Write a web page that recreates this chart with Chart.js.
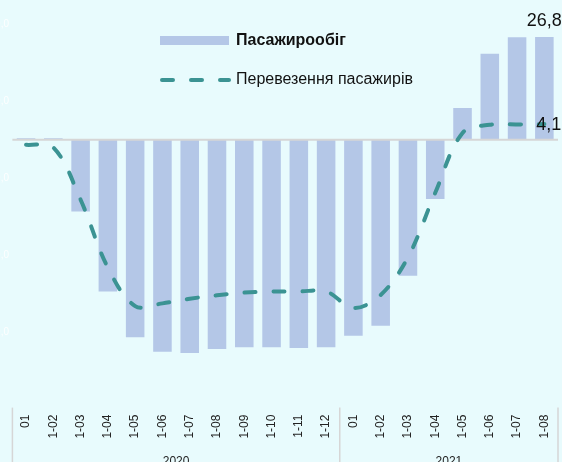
<!DOCTYPE html>
<html>
<head>
<meta charset="utf-8">
<script src="https://cdn.jsdelivr.net/npm/chart.js@4/dist/chart.umd.min.js"></script>
<style>
  html, body { margin: 0; padding: 0; background: #e8fbfd; }
  canvas { display: block; }
</style>
</head>
<body>
<canvas id="chart" width="562" height="462"></canvas>
<script>
const months = ['01', '1-02', '1-03', '1-04', '1-05', '1-06', '1-07', '1-08', '1-09', '1-10', '1-11', '1-12',
  '01', '1-02', '1-03', '1-04', '1-05', '1-06', '1-07', '1-08'];
const years = ['2020', '2021'];
const yearSpans = [12, 8];
const turnover = [0.4, 0.4, -18.7, -39.5, -51.4, -55.2, -55.5, -54.5, -54.0, -54.0, -54.2, -54.0,
  -51.0, -48.4, -35.4, -15.4, 8.3, 22.4, 26.7, 26.8];
const traffic = [-1.3, -2.0, -15.6, -33.3, -43.3, -42.6, -41.4, -40.5, -39.8, -39.5, -39.5, -39.5,
  -43.8, -40.4, -30.6, -13.8, 1.8, 3.9, 4.0, 4.1];
const yTicks = [30, 10, -10, -30, -50];

const barColor = '#b4c7e7';
const lineColor = '#3b9393';
const font = "'Liberation Sans', Arial, sans-serif";
const fmt = v => v.toFixed(1).replace('.', ',');

// zero axis line, drawn over bars but under the line
const zeroLine = {
  id: 'zeroLine',
  afterDatasetDraw(chart, args) {
    if (args.index !== 0) return;
    const ctx = chart.ctx, a = chart.chartArea;
    const y = chart.scales.y.getPixelForValue(0);
    ctx.save();
    ctx.strokeStyle = '#d6d6d6';
    ctx.lineWidth = 2;
    ctx.beginPath();
    ctx.moveTo(a.left, y);
    ctx.lineTo(a.right, y);
    ctx.stroke();
    ctx.restore();
  }
};

// year groups under the month labels, legend and end labels
const extras = {
  id: 'extras',
  afterDraw(chart) {
    const ctx = chart.ctx, a = chart.chartArea, x = chart.scales.x, y = chart.scales.y;
    ctx.save();
    // faint white value labels (clipped at the left edge)
    ctx.fillStyle = 'rgba(255,255,255,0.9)';
    ctx.font = '10px ' + font;
    ctx.textAlign = 'right';
    ctx.textBaseline = 'middle';
    yTicks.forEach(v => ctx.fillText(fmt(v), 9, y.getPixelForValue(v)));

    // group separators + years
    let start = 0;
    const edges = [a.left];
    years.forEach((yr, i) => {
      const end = start + yearSpans[i] - 1;
      const right = end === months.length - 1 ? a.right
        : (x.getPixelForValue(end) + x.getPixelForValue(end + 1)) / 2;
      edges.push(right);
      const left = edges[i];
      ctx.fillStyle = '#222';
      ctx.font = '12px ' + font;
      ctx.textAlign = 'center';
      ctx.textBaseline = 'alphabetic';
      ctx.fillText(yr, (left + right) / 2, 464.5);
      start = end + 1;
    });
    ctx.strokeStyle = '#d6d6d6';
    ctx.lineWidth = 1.5;
    edges.forEach(e => {
      ctx.beginPath();
      ctx.moveTo(e, a.bottom - 1);
      ctx.lineTo(e, chart.height);
      ctx.stroke();
    });

    // legend
    const ds = chart.data.datasets;
    ctx.fillStyle = barColor;
    ctx.fillRect(160, 36, 69, 9);
    ctx.fillStyle = '#111';
    ctx.textAlign = 'left';
    ctx.textBaseline = 'middle';
    ctx.font = 'bold 16px ' + font;
    ctx.fillText(ds[0].label, 236, 41);
    ctx.strokeStyle = lineColor;
    ctx.lineWidth = 4;
    ctx.lineCap = 'round';
    ctx.setLineDash([11, 18]);
    ctx.beginPath();
    ctx.moveTo(162, 80);
    ctx.lineTo(229, 80);
    ctx.stroke();
    ctx.setLineDash([]);
    ctx.font = '16px ' + font;
    ctx.fillText(ds[1].label, 236, 80);

    // last-value labels
    const n = months.length - 1;
    const bar = chart.getDatasetMeta(0).data[n];
    const pt = chart.getDatasetMeta(1).data[n];
    ctx.font = '18px ' + font;
    ctx.fillStyle = '#111';
    ctx.textAlign = 'center';
    ctx.textBaseline = 'alphabetic';
    ctx.fillText(fmt(turnover[n]), bar.x, bar.y - 11);
    ctx.textAlign = 'left';
    ctx.textBaseline = 'middle';
    ctx.fillText(fmt(traffic[n]), pt.x - 8, pt.y + 1);
    ctx.restore();
  }
};

new Chart(document.getElementById('chart'), {
  data: {
    labels: months,
    datasets: [
      {
        type: 'bar',
        label: 'Пасажирообіг',
        data: turnover,
        backgroundColor: barColor,
        borderWidth: 0,
        categoryPercentage: 1,
        barPercentage: 0.68,
        order: 1
      },
      {
        type: 'line',
        label: 'Перевезення пасажирів',
        data: traffic,
        borderColor: lineColor,
        borderWidth: 4,
        borderDash: [11, 18],
        borderCapStyle: 'round',
        pointRadius: 0,
        tension: 0.35,
        fill: false,
        order: 0
      }
    ]
  },
  options: {
    responsive: false,
    devicePixelRatio: 1,
    animation: false,
    layout: { padding: { top: 5.4, right: 4, left: 0, bottom: 0 } },
    plugins: {
      legend: { display: false },
      tooltip: { enabled: false }
    },
    scales: {
      x: {
        offset: true,
        grid: { display: false, drawTicks: false },
        border: { display: false },
        ticks: {
          minRotation: 90,
          maxRotation: 90,
          autoSkip: false,
          padding: 6,
          color: '#222',
          font: { family: font, size: 12 }
        },
        afterFit(scale) {
          scale.height = 53.4;
          scale.paddingLeft = 0;
          scale.paddingRight = 0;
        }
      },
      y: {
        min: -70,
        max: 35,
        grid: { display: false, drawTicks: false },
        border: { display: false },
        ticks: { display: false },
        afterFit(scale) { scale.width = 12.4; }
      }
    }
  },
  plugins: [zeroLine, extras]
});
</script>
</body>
</html>
